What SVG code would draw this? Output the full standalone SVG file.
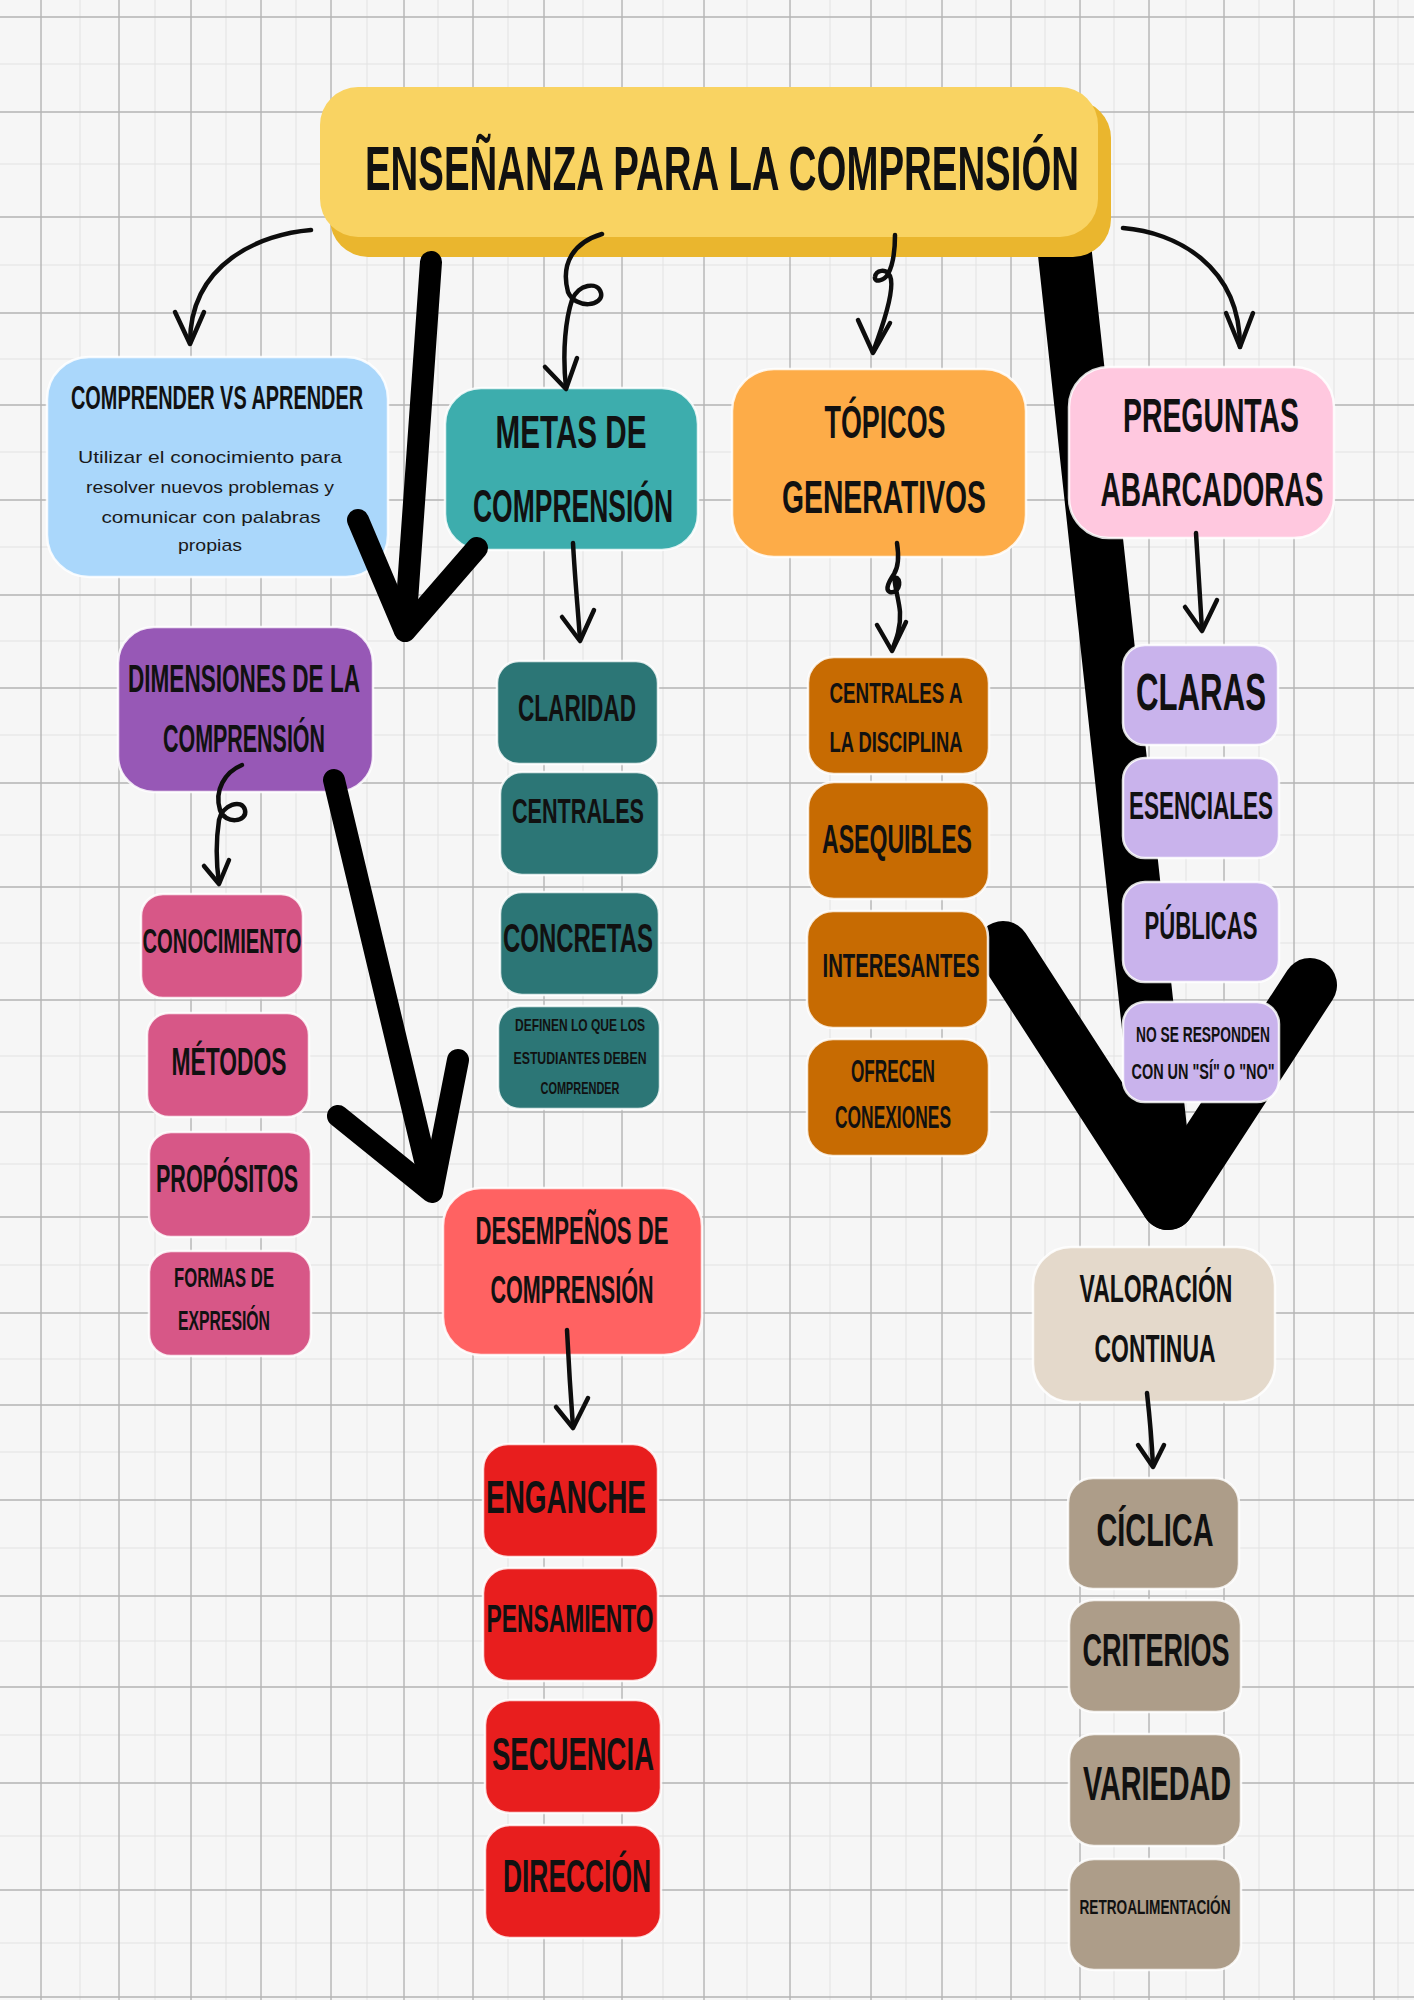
<svg xmlns="http://www.w3.org/2000/svg" width="1414" height="2000" viewBox="0 0 1414 2000">
<style>
.t{font-family:"Liberation Sans","DejaVu Sans",sans-serif;font-weight:700;fill:#111;text-anchor:middle}
.b{font-family:"Liberation Sans","DejaVu Sans",sans-serif;font-weight:400;fill:#1a1a1a;text-anchor:middle}
.box{stroke:#ffffff;stroke-width:2.5;stroke-opacity:0.85}
.thin{fill:none;stroke:#0d0d0d;stroke-width:4.5;stroke-linecap:round;stroke-linejoin:round}
.thick{fill:none;stroke:#000;stroke-width:22;stroke-linecap:round;stroke-linejoin:round}
.huge{fill:none;stroke:#000;stroke-width:54;stroke-linecap:round;stroke-linejoin:round}
.gM{stroke:#b4b4b4;stroke-width:1.4}
.gm{stroke:#e2e2e2;stroke-width:1}
</style>
<rect width="1414" height="2000" fill="#f6f6f6"/>
<g id="grid">
<path class="gm" d="M0,64H1414M0,164H1414M0,265H1414M0,359H1414M0,452H1414M0,547H1414M0,641H1414M0,735H1414M0,835H1414M0,943H1414M0,1056H1414M0,1164H1414M0,1265H1414M0,1359H1414M0,1452H1414M0,1548H1414M0,1641H1414M0,1735H1414M0,1836H1414M0,1943H1414M80,0V2000M155,0V2000M226,0V2000M296,0V2000M367,0V2000M438,0V2000M508,0V2000M583,0V2000M663,0V2000M747,0V2000M830,0V2000M906,0V2000M976,0V2000M1045,0V2000M1114,0V2000M1186,0V2000M1259,0V2000M1334,0V2000M1398,0V2000"/>
<path class="gM" d="M0,17H1414M0,112H1414M0,217H1414M0,313H1414M0,405H1414M0,500H1414M0,595H1414M0,688H1414M0,783H1414M0,887H1414M0,1000H1414M0,1112H1414M0,1217H1414M0,1313H1414M0,1405H1414M0,1500H1414M0,1596H1414M0,1687H1414M0,1783H1414M0,1890H1414M0,1997H1414M41,0V2000M119,0V2000M191,0V2000M261,0V2000M331,0V2000M404,0V2000M473,0V2000M544,0V2000M622,0V2000M704,0V2000M790,0V2000M871,0V2000M942,0V2000M1011,0V2000M1080,0V2000M1149,0V2000M1224,0V2000M1294,0V2000M1374,0V2000"/>
</g>
<g id="connectors-back">
<path class="huge" d="M1064,245 L1168,1203"/>
<path class="huge" d="M1003,948 L1168,1203 L1310,985"/>
</g>
<g id="n-title">
<rect x="330" y="100" width="781" height="157" rx="38" fill="#EAB62E"/>
<rect x="320" y="87" width="778" height="150" rx="38" fill="#F9D362"/>
<text class="t" x="722" y="190" font-size="63" textLength="714" lengthAdjust="spacingAndGlyphs">ENSEÑANZA PARA LA COMPRENSIÓN</text>
</g>
<g id="n-comprender">
<rect class="box" x="47" y="357" width="341" height="220" rx="42" fill="#AAD7FB"/>
<text class="t" x="217" y="409" font-size="34" textLength="292" lengthAdjust="spacingAndGlyphs">COMPRENDER VS APRENDER</text>
<text class="b" x="210" y="463" font-size="17" textLength="264" lengthAdjust="spacingAndGlyphs">Utilizar el conocimiento para</text>
<text class="b" x="210" y="493" font-size="17" textLength="248" lengthAdjust="spacingAndGlyphs">resolver nuevos problemas y</text>
<text class="b" x="211" y="523" font-size="17" textLength="219" lengthAdjust="spacingAndGlyphs">comunicar con palabras</text>
<text class="b" x="210" y="551" font-size="17" textLength="64" lengthAdjust="spacingAndGlyphs">propias</text>
</g>
<g id="n-metas">
<rect class="box" x="445" y="388" width="253" height="162" rx="36" fill="#3DADAD"/>
<text class="t" x="571" y="448" font-size="46" textLength="151" lengthAdjust="spacingAndGlyphs">METAS DE</text>
<text class="t" x="573" y="522" font-size="46" textLength="200" lengthAdjust="spacingAndGlyphs">COMPRENSIÓN</text>
</g>
<g id="n-topicos">
<rect class="box" x="732" y="369" width="294" height="188" rx="42" fill="#FDAC48"/>
<text class="t" x="885" y="438" font-size="46" textLength="121" lengthAdjust="spacingAndGlyphs">TÓPICOS</text>
<text class="t" x="884" y="513" font-size="46" textLength="204" lengthAdjust="spacingAndGlyphs">GENERATIVOS</text>
</g>
<g id="n-preguntas">
<rect class="box" x="1069" y="367" width="265" height="171" rx="40" fill="#FFC8DF"/>
<text class="t" x="1211" y="432" font-size="49" textLength="176" lengthAdjust="spacingAndGlyphs">PREGUNTAS</text>
<text class="t" x="1212" y="506" font-size="49" textLength="223" lengthAdjust="spacingAndGlyphs">ABARCADORAS</text>
</g>
<g id="n-dimensiones">
<rect class="box" x="118" y="627" width="255" height="165" rx="36" fill="#9758B6"/>
<text class="t" x="244" y="692" font-size="38" textLength="232" lengthAdjust="spacingAndGlyphs">DIMENSIONES DE LA</text>
<text class="t" x="244" y="752" font-size="38" textLength="162" lengthAdjust="spacingAndGlyphs">COMPRENSIÓN</text>
</g>
<g id="n-claridad">
<rect class="box" x="497" y="661" width="161" height="103" rx="22" fill="#2C7676"/>
<text class="t" x="577" y="721" font-size="36" textLength="118" lengthAdjust="spacingAndGlyphs">CLARIDAD</text>
</g>
<g id="n-centrales">
<rect class="box" x="500" y="772" width="159" height="103" rx="22" fill="#2C7676"/>
<text class="t" x="578" y="823" font-size="35" textLength="132" lengthAdjust="spacingAndGlyphs">CENTRALES</text>
</g>
<g id="n-concretas">
<rect class="box" x="500" y="892" width="159" height="103" rx="22" fill="#2C7676"/>
<text class="t" x="578" y="952" font-size="40" textLength="150" lengthAdjust="spacingAndGlyphs">CONCRETAS</text>
</g>
<g id="n-definen">
<rect class="box" x="498" y="1006" width="162" height="103" rx="22" fill="#2C7676"/>
<text class="t" x="580" y="1031" font-size="17" textLength="130" lengthAdjust="spacingAndGlyphs">DEFINEN LO QUE LOS</text>
<text class="t" x="580" y="1064" font-size="17" textLength="133" lengthAdjust="spacingAndGlyphs">ESTUDIANTES DEBEN</text>
<text class="t" x="580" y="1094" font-size="17" textLength="79" lengthAdjust="spacingAndGlyphs">COMPRENDER</text>
</g>
<g id="n-conocimiento">
<rect class="box" x="141" y="894" width="162" height="104" rx="22" fill="#D75787"/>
<text class="t" x="222" y="953" font-size="35" textLength="159" lengthAdjust="spacingAndGlyphs">CONOCIMIENTO</text>
</g>
<g id="n-metodos">
<rect class="box" x="147" y="1013" width="162" height="104" rx="22" fill="#D75787"/>
<text class="t" x="229" y="1075" font-size="38" textLength="115" lengthAdjust="spacingAndGlyphs">MÉTODOS</text>
</g>
<g id="n-propositos">
<rect class="box" x="149" y="1132" width="162" height="105" rx="22" fill="#D75787"/>
<text class="t" x="227" y="1192" font-size="38" textLength="142" lengthAdjust="spacingAndGlyphs">PROPÓSITOS</text>
</g>
<g id="n-formas">
<rect class="box" x="149" y="1251" width="162" height="105" rx="22" fill="#D75787"/>
<text class="t" x="224" y="1287" font-size="27" textLength="100" lengthAdjust="spacingAndGlyphs">FORMAS DE</text>
<text class="t" x="224" y="1330" font-size="27" textLength="92" lengthAdjust="spacingAndGlyphs">EXPRESIÓN</text>
</g>
<g id="n-desempenos">
<rect class="box" x="443" y="1188" width="259" height="167" rx="38" fill="#FF6262"/>
<text class="t" x="572" y="1244" font-size="38" textLength="193" lengthAdjust="spacingAndGlyphs">DESEMPEÑOS DE</text>
<text class="t" x="572" y="1303" font-size="38" textLength="163" lengthAdjust="spacingAndGlyphs">COMPRENSIÓN</text>
</g>
<g id="n-enganche">
<rect class="box" x="483" y="1444" width="175" height="113" rx="25" fill="#E81E1E"/>
<text class="t" x="566" y="1513" font-size="46" textLength="160" lengthAdjust="spacingAndGlyphs">ENGANCHE</text>
</g>
<g id="n-pensamiento">
<rect class="box" x="483" y="1568" width="175" height="113" rx="25" fill="#E81E1E"/>
<text class="t" x="570" y="1632" font-size="38" textLength="167" lengthAdjust="spacingAndGlyphs">PENSAMIENTO</text>
</g>
<g id="n-secuencia">
<rect class="box" x="485" y="1700" width="176" height="113" rx="25" fill="#E81E1E"/>
<text class="t" x="573" y="1770" font-size="46" textLength="162" lengthAdjust="spacingAndGlyphs">SECUENCIA</text>
</g>
<g id="n-direccion">
<rect class="box" x="485" y="1825" width="176" height="113" rx="25" fill="#E81E1E"/>
<text class="t" x="577" y="1892" font-size="46" textLength="148" lengthAdjust="spacingAndGlyphs">DIRECCIÓN</text>
</g>
<g id="n-centrales-disciplina">
<rect class="box" x="808" y="657" width="181" height="117" rx="26" fill="#C76B02"/>
<text class="t" x="896" y="703" font-size="29" textLength="133" lengthAdjust="spacingAndGlyphs">CENTRALES A</text>
<text class="t" x="896" y="752" font-size="29" textLength="133" lengthAdjust="spacingAndGlyphs">LA DISCIPLINA</text>
</g>
<g id="n-asequibles">
<rect class="box" x="808" y="782" width="181" height="117" rx="26" fill="#C76B02"/>
<text class="t" x="897" y="853" font-size="40" textLength="150" lengthAdjust="spacingAndGlyphs">ASEQUIBLES</text>
</g>
<g id="n-interesantes">
<rect class="box" x="807" y="911" width="181" height="117" rx="26" fill="#C76B02"/>
<text class="t" x="901" y="977" font-size="34" textLength="157" lengthAdjust="spacingAndGlyphs">INTERESANTES</text>
</g>
<g id="n-ofrecen">
<rect class="box" x="807" y="1039" width="182" height="117" rx="26" fill="#C76B02"/>
<text class="t" x="893" y="1082" font-size="31" textLength="84" lengthAdjust="spacingAndGlyphs">OFRECEN</text>
<text class="t" x="893" y="1128" font-size="31" textLength="116" lengthAdjust="spacingAndGlyphs">CONEXIONES</text>
</g>
<g id="n-claras">
<rect class="box" x="1123" y="645" width="155" height="100" rx="22" fill="#C9B3EC"/>
<text class="t" x="1201" y="710" font-size="52" textLength="130" lengthAdjust="spacingAndGlyphs">CLARAS</text>
</g>
<g id="n-esenciales">
<rect class="box" x="1123" y="758" width="156" height="100" rx="22" fill="#C9B3EC"/>
<text class="t" x="1201" y="819" font-size="38" textLength="144" lengthAdjust="spacingAndGlyphs">ESENCIALES</text>
</g>
<g id="n-publicas">
<rect class="box" x="1123" y="882" width="156" height="100" rx="22" fill="#C9B3EC"/>
<text class="t" x="1201" y="939" font-size="38" textLength="113" lengthAdjust="spacingAndGlyphs">PÚBLICAS</text>
</g>
<g id="n-nose">
<rect class="box" x="1123" y="1002" width="156" height="100" rx="22" fill="#C9B3EC"/>
<text class="t" x="1203" y="1042" font-size="22" textLength="134" lengthAdjust="spacingAndGlyphs">NO SE RESPONDEN</text>
<text class="t" x="1203" y="1079" font-size="22" textLength="143" lengthAdjust="spacingAndGlyphs">CON UN "SÍ" O "NO"</text>
</g>
<g id="n-valoracion">
<rect class="box" x="1033" y="1247" width="242" height="155" rx="38" fill="#E4D9CB"/>
<text class="t" x="1156" y="1302" font-size="39" textLength="153" lengthAdjust="spacingAndGlyphs">VALORACIÓN</text>
<text class="t" x="1155" y="1362" font-size="39" textLength="121" lengthAdjust="spacingAndGlyphs">CONTINUA</text>
</g>
<g id="n-ciclica">
<rect class="box" x="1068" y="1478" width="171" height="111" rx="25" fill="#AD9D89"/>
<text class="t" x="1155" y="1546" font-size="46" textLength="117" lengthAdjust="spacingAndGlyphs">CÍCLICA</text>
</g>
<g id="n-criterios">
<rect class="box" x="1069" y="1600" width="172" height="112" rx="25" fill="#AD9D89"/>
<text class="t" x="1156" y="1666" font-size="46" textLength="147" lengthAdjust="spacingAndGlyphs">CRITERIOS</text>
</g>
<g id="n-variedad">
<rect class="box" x="1069" y="1734" width="172" height="112" rx="25" fill="#AD9D89"/>
<text class="t" x="1157" y="1800" font-size="49" textLength="148" lengthAdjust="spacingAndGlyphs">VARIEDAD</text>
</g>
<g id="n-retro">
<rect class="box" x="1069" y="1859" width="172" height="111" rx="25" fill="#AD9D89"/>
<text class="t" x="1155" y="1914" font-size="21" textLength="151" lengthAdjust="spacingAndGlyphs">RETROALIMENTACIÓN</text>
</g>
<g id="connectors">
<path class="thick" d="M431,262 L405,630"/>
<path class="thick" d="M358,520 L405,631 L477,548"/>
<path class="thick" d="M334,780 L432,1190"/>
<path class="thick" d="M338,1116 L432,1192 L458,1060"/>
<path class="thin" d="M311,230 C262,234 190,262 190,343"/>
<path class="thin" d="M175,312 L190,344 L204,312"/>
<path class="thin" d="M602,234 C575,242 560,262 568,292 C576,310 604,306 601,293 C598,281 578,284 572,300 C566,318 562,350 566,388"/>
<path class="thin" d="M545,367 L566,389 L577,358"/>
<path class="thin" d="M895,235 C895,250 894,263 888,274 C884,281 874,283 875,277 C876,270 886,268 890,276 C895,287 885,320 873,352"/>
<path class="thin" d="M858,320 L873,353 L890,323"/>
<path class="thin" d="M1123,228 C1175,232 1240,265 1240,347"/>
<path class="thin" d="M1226,313 L1240,347 L1253,313"/>
<path class="thin" d="M573,543 C575,580 578,610 580,640"/>
<path class="thin" d="M562,617 L580,641 L594,610"/>
<path class="thin" d="M897,543 C899,556 899,566 894,574 C890,580 884,590 890,592 C898,594 902,582 897,578 C891,575 899,598 900,612 C901,628 896,640 892,650"/>
<path class="thin" d="M877,625 L892,651 L906,622"/>
<path class="thin" d="M1196,533 C1198,570 1200,600 1202,630"/>
<path class="thin" d="M1185,607 L1202,631 L1217,600"/>
<path class="thin" d="M242,765 C225,772 214,790 220,810 C225,825 248,822 245,810 C242,798 222,805 219,820 C216,840 216,862 219,883"/>
<path class="thin" d="M204,866 L219,884 L229,860"/>
<path class="thin" d="M567,1330 C569,1370 571,1400 573,1427"/>
<path class="thin" d="M556,1407 L573,1428 L588,1398"/>
<path class="thin" d="M1147,1393 C1150,1420 1152,1445 1153,1466"/>
<path class="thin" d="M1138,1445 L1153,1467 L1164,1445"/>
</g>
</svg>
